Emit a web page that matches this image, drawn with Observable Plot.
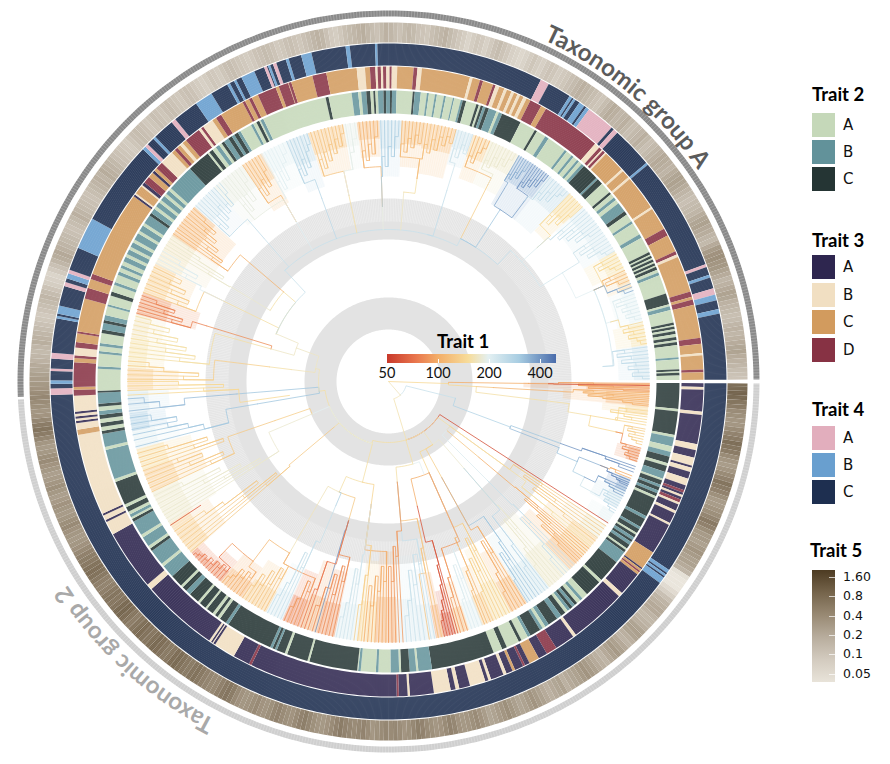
<!DOCTYPE html>
<html><head><meta charset="utf-8">
<script src="https://cdn.jsdelivr.net/npm/d3@7"></script>
<script src="https://cdn.jsdelivr.net/npm/@observablehq/plot@0.6"></script>
<style>
html,body{margin:0;background:#fff}
#wrap{position:relative;width:890px;height:764px;overflow:hidden;font-family:Lato,"Open Sans",sans-serif}
#wrap svg{display:block}
.t{position:absolute;font-weight:700;font-size:18.5px;color:#000;line-height:20px;white-space:nowrap}
.s{position:absolute;width:23px;height:24px}
.l{position:absolute;font-family:"DejaVu Sans",sans-serif;font-size:15px;line-height:18px;color:#111}
.n{position:absolute;font-family:"DejaVu Sans",sans-serif;font-size:12.5px;line-height:16px;color:#111}
.c{position:absolute;font-size:14.5px;line-height:16px;color:#111;transform:translateX(-50%)}
</style></head><body><div id="wrap"></div>
<script>
const colors2={A:"#c5d8b9",B:"#62929a",C:"#253534"};
const colors3={A:"#2e264f",B:"#f1dfc2",C:"#d29b5e",D:"#873244"};
const colors4={A:"#e2aebd",B:"#699fcf",C:"#1e2f50"};
const trait1Stops=[50,75,100,145,190,290,500];
const trait1Colors=["#c8392b","#e9764d","#f3ad68","#f7dc9a","#e3f0f2","#a8cde2","#4a6cab"];
const trait5Stops=[.05,.1,.2,.4,.8,1.6];
const trait5Colors=["#e8e3d9","#d3cbbf","#b8ad9d","#988973","#75644b","#4d3b22"];
const trait1Ticks=[50,100,200,400];
const trait5Ticks=["1.60","0.8","0.4","0.2","0.1","0.05"];

// category, end angle (degrees clockwise from 3 o'clock)
const trait2="C 5.4 A 5.9 C 10.6 A 11.1 B 12.9 A 14 B 15 C 16.3 A 16.9 C 18.1 B 19.5 A 19.9 C 20.8 B 21.3 C 22 B 22.6 C 23.2 A 23.7 C 27.6 B 28.2 C 30 B 30.5 C 31.4 A 31.8 C 32.4 B 33 C 33.5 B 34.1 C 35 A 35.4 C 35.9 B 38.4 C 43 A 43.6 C 47 A 48.2 B 48.8 A 49.6 C 50.2 B 50.8 C 51.4 B 52 A 52.6 C 53.6 B 54.6 C 56.6 B 57.4 A 58 B 58.6 C 60.8 B 61.4 A 62.8 C 63.4 A 66 C 67 A 68.8 C 81.4 B 84.1 A 84.5 B 85.8 C 87.5 A 87.9 B 89.6 A 92 B 92.5 A 95.5 B 96 A 96.2 C 105.8 A 106.2 C 110.4 A 110.9 C 112.6 B 113 C 113.5 B 114 C 123.4 B 124 C 125.4 A 126 C 126.6 A 127.2 C 128.6 A 129 C 130.4 A 130.9 C 133 B 134 C 135 A 135.5 C 138 B 140.6 A 141.2 B 144.4 C 145 A 145.6 B 147.6 A 148.2 B 151.2 C 151.8 A 152.2 B 152.8 A 153.4 C 154.4 A 155 C 159.8 A 160.4 B 166.4 A 167 B 169.6 C 170.2 A 171 C 171.8 A 172.6 C 173.4 B 174.2 A 175 C 175.6 B 177.8 C 178.2 A 182.5 B 183 A 185.5 B 186 A 187 B 187.6 A 189.6 C 190.3 B 191.6 C 192.2 B 193.2 A 195 B 195.4 A 197.2 C 198 A 199.4 B 200 A 201.5 B 202.2 A 203 B 203.6 A 204.4 B 205.4 A 206 B 207 A 207.6 B 208.6 A 209.2 B 210.6 A 211.2 B 212.4 A 213 B 214.8 C 215.4 B 216.4 A 217 B 218 A 218.6 B 219.6 A 220.2 B 221 A 221.6 B 227 C 231.6 A 232 C 232.8 A 233.6 B 234.4 A 235 C 235.6 B 236.6 C 237.4 B 238 C 238.8 B 239.4 A 241.8 B 242.3 A 243 C 243.6 A 243.9 B 244.5 A 257.5 C 258.1 A 262.7 B 264 A 264.6 B 265.6 C 266.4 A 267 C 267.4 A 267.9 B 269 C 269.5 B 270.3 C 270.7 B 271.6 A 274.8 C 275.2 B 276.4 A 277.6 B 278 A 279.2 B 279.6 A 281 B 281.4 A 282.8 B 283.1 A 284.4 B 284.8 C 285.5 A 287.6 C 288.1 A 288.5 C 289 B 289.5 C 290.2 B 291.8 A 292.3 B 293 C 297 A 300.2 C 300.7 A 302.6 B 303.4 A 307.3 B 307.8 A 309 B 309.5 A 310.4 B 310.9 A 311.6 B 312.2 C 315.6 B 316 C 317.2 A 319.4 C 319.9 A 320.8 B 321.4 A 322.2 B 324.2 C 325 A 326.6 B 327.1 A 329.6 B 330.4 A 333.6 C 334.1 A 334.4 C 334.9 A 335.2 C 335.7 A 336 C 336.5 A 336.8 C 337.4 A 338 B 338.6 A 342.4 C 344.6 A 345 B 345.8 A 348.3 C 348.8 A 349.1 C 349.6 A 350 C 350.6 A 351.2 C 351.8 A 352.2 C 352.8 A 355.2 B 355.6 A 357.6 C 358 A 358.3 C 358.8 A 359.7";
const trait3="A 1 B 1.5 A 5.5 B 6.1 A 11.5 B 12.6 A 14 B 15.5 A 15.9 B 16.7 A 18 B 19.3 A 20.2 D 20.7 A 21.1 B 21.5 A 22 D 22.6 B 23 A 24.2 B 24.7 A 26.7 B 27.1 A 32.9 C 36.3 A 36.6 C 37 D 37.3 C 37.8 A 42.2 B 43 A 53.5 B 54.1 A 57.8 D 59.8 A 61.5 C 63.4 A 64.3 D 64.7 A 66.3 C 66.8 A 68 B 68.6 A 71 B 71.5 A 72.1 B 75 A 77 B 77.7 A 78.6 B 81.7 A 86.1 B 86.5 A 88.1 D 88.5 A 115.8 D 116.3 A 119.4 B 123.4 A 123.8 B 124 A 124.3 B 124.7 A 138.8 B 139.9 A 151 B 153.5 A 153.9 B 154.8 A 155.2 B 170.2 C 171.2 B 172.4 A 172.8 B 173.2 A 173.6 B 174.1 A 174.5 B 177.4 D 178.5 C 179 D 183.5 C 184.3 D 184.8 B 186.2 D 187.2 C 188.8 D 189.2 C 195.3 D 197.3 C 199 D 200 C 216 A 216.4 B 216.7 C 218.3 B 218.6 A 219.2 D 220.5 C 221.5 A 222 C 222.6 D 224 B 226.6 C 227.3 D 227.9 C 228.6 B 229.2 C 230 D 233 B 233.5 D 234 B 236 C 236.8 D 237.9 C 242.4 D 242.9 C 243.7 D 244.3 C 245.5 D 249 C 249.6 D 251.4 C 251.5 D 252 C 256 D 258.6 C 264.2 B 265.7 C 266.6 D 267.6 B 268 D 268.6 B 269 D 269.6 B 270.2 D 270.6 B 271.6 C 274.6 D 275.3 B 276.1 C 285 B 285.5 C 286.9 D 287.5 C 289.4 D 289.9 B 290.6 C 291.6 B 292.1 C 293 B 293.5 C 294.2 B 294.7 C 295.4 B 296 C 296.8 D 299 C 300 D 311 B 312 D 312.6 B 312.9 D 313.4 B 313.7 C 317.7 B 318.1 C 319.6 B 320 C 326.4 B 326.8 C 331 D 332.4 C 335.6 D 336.2 B 336.7 C 343.4 D 344.4 C 344.9 D 345.9 C 352 D 353.1 C 354.8 B 355.2 C 357.8 D 358.3 C 359.7";
const trait4="C 33.9 B 34.5 C 34.8 B 35.2 C 35.5 B 36.6 C 177.7 A 178.8 C 179.6 B 180.2 C 181.8 A 182.2 C 183.9 A 184.9 C 190.8 B 191.2 C 191.6 B 193 C 196.4 A 197.1 C 197.8 B 198.7 A 199.3 C 203.3 B 208.8 C 223.4 B 224 A 224.6 C 225.9 B 226.4 C 230.1 A 230.9 C 235.3 B 238.4 C 241.5 B 242 C 242.8 B 243.2 C 244.2 B 246.6 C 248.4 A 248.9 C 249.1 B 249.5 C 250 A 250.6 C 252.3 B 252.8 C 255 B 256.8 C 262.7 B 263.4 C 267.7 B 268.1 C 296.8 A 298.3 C 302.4 B 302.9 C 303.2 B 303.6 C 304.4 B 305.4 C 305.8 B 306.4 A 311.3 C 311.8 A 312.6 C 319.7 B 320.1 C 339.7 A 340.2 C 341.6 B 342.1 C 344 A 345.1 B 346.1 C 347.6 B 348.4 C 359.7";
// one value per 0.75 degrees
const trait5=[.9,1,1.1,1,.8,.7,.5,.45,.4,.4,.5,.6,.7,.9,.8,.7,.5,.4,.35,.4,.5,.6,.8,.7,.6,.45,.35,.35,.4,.45,.55,.7,.6,.45,.35,.35,.3,.35,.4,.35,
.3,.3,.25,.2,.06,.05,.05,.05,.07,.1,.15,.2,.22,.25,.25,.2,.18,.2,.22,.28,.3,.28,.22,.2,.25,.3,.35,.3,.25,.2,.22,.25,.3,.35,.4,.35,.3,.28,.25,.22,
.3,.28,.25,.22,.25,.3,.35,.4,.35,.3,.28,.32,.38,.45,.4,.35,.3,.28,.35,.42,.5,.45,.4,.38,.42,.55,.6,.5,.42,.4,.45,.5,.6,.65,.55,.45,.42,.5,.55,.5,
.55,.5,.45,.4,.5,.6,.55,.5,.55,.6,.7,.6,.5,.42,.38,.4,.45,.55,.65,.6,.5,.42,.45,.5,.6,.55,.45,.4,.42,.5,.45,.4,.38,.42,.5,.65,.75,.7,.6,.5,
.5,.55,.6,.7,.8,.75,.65,.7,.8,.9,.85,.7,.65,.75,.85,.9,.8,.7,.75,.85,.8,.7,.6,.7,.85,.95,.9,.75,.7,.75,.7,.6,.55,.6,.7,.8,.85,.8,.7,.65,
.6,.5,.42,.38,.35,.38,.42,.5,.45,.38,.35,.38,.42,.36,.33,.38,.45,.4,.35,.33,.38,.42,.5,.45,.38,.35,.4,.55,.7,.8,.7,.55,.42,.4,.45,.5,.55,.5,.42,.38,
.35,.32,.28,.26,.22,.2,.18,.2,.24,.22,.2,.17,.15,.13,.12,.14,.16,.18,.2,.17,.14,.11,.1,.09,.12,.15,.2,.24,.26,.22,.2,.18,.17,.15,.14,.16,.18,.22,.2,.17,
.16,.15,.14,.16,.18,.2,.22,.2,.24,.22,.2,.18,.15,.14,.13,.12,.11,.13,.15,.16,.15,.14,.12,.13,.15,.14,.13,.15,.16,.14,.13,.12,.14,.15,.14,.12,.11,.1,.11,.13,
.12,.11,.13,.15,.16,.14,.13,.12,.11,.12,.14,.15,.17,.16,.14,.12,.13,.15,.16,.14,.13,.15,.17,.2,.22,.2,.15,.12,.11,.13,.16,.18,.2,.22,.24,.2,.17,.15,.18,.22,
.2,.17,.15,.18,.2,.18,.15,.14,.13,.16,.18,.2,.22,.18,.15,.13,.11,.09,.11,.13,.12,.1,.12,.15,.17,.14,.12,.1,.09,.08,.09,.11,.13,.11,.1,.12,.14,.13,.11,.12,
.13,.15,.17,.2,.22,.2,.18,.16,.14,.13,.16,.2,.24,.22,.19,.2,.22,.18,.15,.17,.19,.22,.18,.15,.17,.2,.22,.25,.24,.22,.2,.24,.28,.3,.28,.24,.2,.17,.15,.17,
.18,.2,.24,.28,.3,.26,.24,.2,.18,.25,.35,.42,.45,.4,.38,.3,.25,.2,.22,.26,.3,.28,.22,.2,.18,.16,.17,.2,.22,.2,.22,.25,.28,.3,.25,.22,.2,.17,.15,.14];

// dense clades: angle from, angle to, inner radius, Trait 1
const denseClades=[[.4,2.4,135,90],[2.4,5.6,175,100],[5.6,7.5,215,135],[15,18,237,85],[22,25,238,380],[25,29,230,230],[30,33,235,190],[33.5,37,215,170],[37,42,200,125],[42,46,190,105],[46,52,180,165],[52,58,185,220],[58,62,195,105],[62,66,185,150],[66,69,200,125],[69,72,205,195],[72,75,210,110],[75,77.5,215,58],[77.5,79.5,195,90],[79.5,83,190,210],[83,88,175,205],[88,93,170,95],[93,97,180,135],[97,102,190,200],[102,106,195,85],[106,110,190,95],[110,114,205,75],[114,118,205,205],[118,124,215,125],[124,130,225,100],[130,134,235,80],[134,139,245,75],[139,147,215,125],[147,155,205,165],[155,160,200,120],[160,165,205,140],[165,169,215,195],[169,173,225,300],[173,178,220,230],[178,183,210,120],[183,190,225,150],[190,195,230,160],[195,200,200,85],[200,207,215,125],[207,214,205,160],[214,222,205,105],[222,228,215,210],[228,236,210,180],[236,241,205,115],[241,247,215,190],[247,252,205,240],[252,260,215,120],[260,263,215,185],[263,268,225,105],[268,273,205,240],[273,278,215,110],[278,285,210,115],[285,289,225,230],[289,293,215,125],[293,300,215,165],[300,308,205,340],[308,314,205,230],[314,318,210,140],[318,330,225,205],[330,335,225,150],[335,339,235,130],[339,347,235,190],[347,352,230,150],[352,359.7,230,230]];

// parent angle, parent radius, angle, radius, Trait 1
const branches=[[0,0,2,60,140],[0,0,49,18,160],[49,18,14,69,230],[14,69,20.5,130,270],[20.5,130,19.8,183,300],[20.5,130,21.2,183,320],[49,18,73,61,155],
[2,60,.8,140,100],[2,60,3.3,88,140],[3.3,88,3.3,105,120],[3.3,88,7,182,150],[7,182,9.6,205,150],[9.6,205,12.5,233,140],
[21.2,183,23,205,300],[23,205,21.6,228,340],[23,205,26,218,280],[26,218,28.5,235,220],
[73,61,32.8,261,58],[73,61,36,76,150],[36,76,40,118,120],[36,76,45,140,200],[73,61,55,77,160],[55,77,49,115,170],[55,77,61,110,130],[55,77,66,100,140],[66,100,77,128,100],[73,61,73.5,86,150],[73.5,86,85,101,150],[73.5,86,69,99,190],
[73,61,105,64,150],[105,64,172,70,150],[105,64,104.5,104,150],[104.5,104,98,124,135],[104.5,104,114,121,150],[114,121,106,145,125],[114,121,120,198,160],[114,121,113,135,280],[120,198,127,225,110],[127,225,134,240,90],[105,64,140,71,150],[105,64,157,83,190],[157,83,161,120,130],
[172,70,170.3,133,300],[172,70,175.3,152,300],[172,70,190,74,160],[190,74,187,98,160],[187,98,187,120,150],[190,74,200,98,165],[200,98,195.5,122,165],[200,98,203,122,165],[195.5,122,197,190,85],[203,122,206,183,150],[203,122,220.5,138,150],[220.5,138,211,138,150],[203,122,227,152,230],[227,152,285,152,230],[227,152,229,190,230],[240,152,240,185,200],[250,152,250,195,250],[258,152,258,190,150],[268,152,268,175,180],
[274.6,152,274.6,190,165],[274.6,190,278,205,150],[285,152,296.8,160,230],[285,152,287,200,240],[296.8,160,296.8,220,130],[296.8,160,313,179,240],[296.8,160,303,205,300],[303,205,301,225,360],[303,205,307,225,380],[313,179,318,200,200],[313,179,328,205,210],[328,205,336,225,190],[336,225,345,230,190],[336,225,356,215,210]];

// parent angle, parent radius, Trait 1, then tip angle + split radius pairs
const tipGroups=[[.8,140,95,[.4,170,.7,205,1.2,190,1.5,225,1.9,200,2.2,235]],[.8,160,58,[.9,165]],[3.3,105,105,[2.5,185,2.9,205,3.3,195,3.7,225,4.1,200,4.5,215,5,235,5.4,245]],[9.6,205,140,[6.5,232,7.2,240,7.8,224,8.4,238,9,246,9.6,230]],[12.5,233,130,[10.5,240,11,248,11.6,244,12.2,252,12.8,246,13.4,250,14,255]],[12.5,233,85,[14.8,240,15.4,246,16,243,16.6,250,17.2,247,17.8,253]],[19.8,183,400,[19,205,19.6,230,20.3,245]],[21.6,228,100,[21.2,238,21.8,244]],[21.6,228,420,[22.3,236,22.8,242,23.2,248,23.6,252]],[26,218,380,[24.2,230,24.8,238,25.4,244,26,250]],[28.5,235,240,[26.6,240,27.2,246,27.8,243,28.4,250,29,246,29.6,252,30.2,255]],
[36,76,125,[33.6,150,34.4,185,35.2,165,36,205,36.8,180,37.6,220]],[36,76,150,[38.4,170,39.2,210]],[40,118,100,[39.8,165,40.4,195,41,180,41.6,215,42.2,200,42.8,225,43.4,210,44,235]],[45,140,230,[44.6,175,45.4,200,46.2,190,47,225,47.8,240]],[49,115,170,[48.5,165,49.4,195,50.2,180,51,215,51.8,235]],[49,115,250,[52.4,170,53.2,205,54,230]],[61,110,300,[54.8,165,55.6,195,56.4,215,57.2,205,57.8,235]],[61,110,100,[58.4,170,59.2,200,60,185,60.8,220,61.6,240]],[66,100,130,[62.4,160,63.2,190,64,175,64.8,210,65.6,195,66.4,230]],[66,100,110,[67,170,67.8,205,68.4,225]],[66,100,200,[69,180,69.8,210,70.6,195,71.4,230]],[66,100,90,[72.4,175,73.2,205,74,225]],[77,128,60,[74.6,165,75.2,190,75.8,210,76.4,225,77,235,77.6,245]],[85,101,120,[78.2,140,79,170,81,195]],[85,101,230,[79.8,160,80.6,185,82,175,83,205,84,190,85,220,86,235]],[85,101,90,[86.8,150,87.6,175,88.4,165,89.2,200,90,185]],
[98,124,100,[90.6,170,91.4,200,92.2,185,93,210,93.8,195,94.6,225,95.4,205]],[98,124,130,[96,165,96.8,195,97.6,225]],[98,124,220,[98.4,175,99.2,205,100,190,100.8,225,101.6,240]],[106,145,85,[102.4,180,103.2,205,104,190,104.8,220,105.6,200,107,215,108,235]],[106,145,400,[106.3,155]],[106,145,75,[108.8,190,109.6,220]],[120,198,90,[110.4,210,111.2,225,112,215,112.8,235,113.6,245]],[113,135,230,[114.4,175,115.2,205,116,190,116.8,225,117.6,240]],[120,198,120,[118.4,210,119.2,225,120,215,120.8,235,121.6,222,122.4,240,123.2,230,124,245]],[127,225,100,[124.8,232,125.6,240,126.4,236,127.2,245,128,238,128.8,248,129.6,252]],[134,240,75,[130.4,244,131.2,250,132,246,132.8,252,133.6,248,134.4,254,135.2,250,136,255,136.8,252,137.6,256,138.4,258]],[140,71,125,[139.3,130,140.2,160,141,145,142,185,143,165,144,205,145,225]],[146.6,225,60,[146.6,228]],[157,83,170,[147.5,130,148.4,165,149.2,150,150,190,151,170,152,210,153,190,154,230]],[161,120,125,[155,170,156,195,157,180,158,215,159,200,160,225,161,175,162,205,163,190,164,230]],[170.3,133,300,[165.5,165,167,190,168.2,205,169.4,225,170.6,215,172,240]],[175.3,152,320,[173.5,205,175,230,176.2,245]],[172,100,140,[177,150,178,185,179,165,180,210]],
[187,120,130,[180.5,175,181.5,205,182.5,190,183.5,225,184.5,240]],[195.5,122,150,[185.5,180,186.5,210,187.5,195,188.5,225,189.5,205,190.5,235,191.5,215,192.5,240,193.5,225,194.5,245]],[197,190,80,[195.2,205,196,225,196.8,215,197.6,235,198.4,225,199.2,245]],[206,183,125,[200,205,201,225,202,215,203,235,204,222,205,240,206,230]],[206,183,200,[207,210,208,228,209,218,210,240]],[220.5,138,105,[214.5,195,215.3,215,216,205,216.8,225,217.6,215,218.4,232,219.2,222,220,238,220.8,228,221.6,244]],[211,138,170,[210.8,185,211.6,210,212.4,195,213.2,225,214,240]],[229,190,240,[222.4,215,223.2,230,224,222,224.8,238,225.6,228,226.4,244,227.2,232,228,240,228.8,235,229.6,248]],[240,185,180,[230.4,210,231.2,228,232,218,233,235,234,225,235,245]],[240,185,110,[236,215,236.8,232,237.6,222,238.4,238,239.2,228,240,244]],[240,185,190,[240.8,210,241.6,228,242.4,218,243.2,236,244,225,245,242,246,250]],[250,195,260,[247,215,247.8,230,248.6,222,249.4,238,250.2,228,251,244,251.8,250]],[258,190,120,[252.6,215,253.4,232,254.2,222,255,238,255.8,228,256.6,244,257.4,234,258.2,248,259,240,259.8,252]],[258,190,185,[260.5,215,261.5,232,262.5,245]],[268,175,105,[263.5,215,264.3,232,265.1,222,265.9,238,266.7,228,267.5,245]],[268,175,280,[268.3,205,269.1,225,269.9,215,270.7,235,271.5,225,272.3,245]],
[278,205,110,[273,225,273.8,238,274.6,230,275.4,244,276.2,235,277,248,277.8,240]],[278,205,115,[278.6,225,279.4,240,280.2,232,281,246,281.8,236,282.6,250,283.4,242,284.2,252,285,246]],[287,200,220,[285.6,228,286.4,242,287.2,234,288,248,288.8,240]],[296.8,220,110,[289.6,228,290.4,240,291.2,234,292,246,292.8,252]],[296.8,220,170,[293.6,232,294.4,242,295.2,236,296,248,296.8,240,297.6,250,298.4,244,299.2,253]],[301,225,350,[300,232,300.6,240,301.2,236,301.8,245,302.4,240,303,250]],[307,225,400,[303.6,232,304.2,240,304.8,236,305.4,246,306,240,306.6,250,307.2,244,307.8,253]],[307,225,240,[308.4,232,309.2,242,310,236,310.8,248,311.6,240,312.4,250,313.2,254]],[318,200,140,[314,218,314.8,232,315.6,224,316.4,238,317.2,230,318,245]],[318,200,230,[318.8,215,319.6,230,320.4,222,321.2,238,322,228,322.8,244,323.6,234,324.4,248]],[328,205,220,[325.2,225,326,238,326.8,230,327.6,244,328.4,235,329.2,248,330,252]],[336,225,140,[330.8,235,331.6,244,332.4,238,333.2,248,334,253]],[336,225,110,[334.8,236,335.6,244,336.4,238,337.2,250]],[336,225,350,[338,236,338.8,246,339.6,252]],[345,230,200,[340.4,238,341.2,246,342,240,342.8,250,343.6,244,344.4,252,345.2,246,346,254]],[345,230,140,[346.8,238,347.6,246,348.4,240,349.2,250,350,244,350.8,252,351.6,255]],[356,215,240,[352.4,226,353.2,238,354,230,354.8,244,355.6,234,356.4,248,357.2,240,358,250,358.8,244,359.4,254]]];

const guideRings=[[52,84],[142,183]];
const groupLabels=[{text:"Taxonomic group A",from:294.5,to:330,r:375,fill:"#5b5b5b"},{text:"Taxonomic group 2",from:117,to:152,r:380,fill:"#a9a9a9"}];

const TIP_R=261;
const col1=d3.scaleLog().domain(trait1Stops).range(trait1Colors).clamp(true);
const col5=d3.scaleLog().domain(trait5Stops).range(trait5Colors).clamp(true);
const rad=d=>d*Math.PI/180, px=(t,r)=>r*Math.cos(rad(t)), py=(t,r)=>r*Math.sin(rad(t));
let uid=0;
const sectors=[];
function sector(t0,t1,r0,r1,fill){
  const id=uid++, n=Math.max(1,Math.ceil(Math.abs(t1-t0)));
  for(let i=0;i<=n;i++){const t=t0+(t1-t0)*i/n;sectors.push({id,fill,x:px(t,r1),y:py(t,r1)})}
  for(let i=n;i>=0;i--){const t=t0+(t1-t0)*i/n;sectors.push({id,fill,x:px(t,r0),y:py(t,r0)})}
}
function runs(str,colors,r0,r1){
  const p=str.split(" ");let a=.3;
  for(let i=0;i<p.length;i+=2){const e=+p[i+1];sector(a,e,r0,r1,colors[p[i]]);a=e}
}
runs(trait2,colors2,268,291);runs(trait3,colors3,293,315);runs(trait4,colors4,316,338);
trait5.forEach((v,i)=>{const a=Math.max(.3,i*.75),b=Math.min(359.7,(i+1)*.75);if(b>a)sector(a,b,339,359,col5(v))});
sector(.3,177.2,365,371,"#cfcfcf");sector(177.6,359.7,365,371,"#8a8a8a");

const keep=sectors.splice(0);
guideRings.forEach(([a,b])=>sector(0,360,a,b,"#e3e3e3"));const guides=sectors.splice(0);
denseClades.forEach(([a,b,r,v])=>sector(a,b,r,TIP_R,col1(v)));const dense=sectors.splice(0);
denseClades.forEach(([a,b,r,v])=>sector(a,b,(r+TIP_R)/2,TIP_R,col1(v)));const denser=sectors.splice(0);
sectors.push(...keep);

const treeRows=[];
function branch(tp,rp,t,r,v,rs){
  const id=uid++,n=Math.ceil(Math.abs(t-tp)/2),stroke=col1(v);
  const ra=rs==null?rp:rs;
  if(rs!=null)treeRows.push({id,stroke,x:px(tp,rp),y:py(tp,rp)});
  for(let i=0;i<=n;i++){const a=tp+(t-tp)*(n?i/n:0);treeRows.push({id,stroke,x:px(a,ra),y:py(a,ra)})}
  treeRows.push({id,stroke,x:px(t,r),y:py(t,r)});
}
branches.forEach(b=>branch(...b));
tipGroups.forEach(([tp,rp,v,tips])=>{
  let pt=tp,pr=rp;
  for(let i=0;i<tips.length;i+=2){branch(pt,pr,tips[i],TIP_R,v,tips[i+1]);pt=tips[i];pr=tips[i+1]}
});

const tickRow=(step,r0,r1)=>d3.range(0,360,step).map(t=>({x1:px(t,r0),y1:py(t,r0),x2:px(t,r1),y2:py(t,r1)}));

const labelMark=(index,{x,y})=>{
  const g=d3.create("svg:g");
  groupLabels.forEach((l,i)=>{
    const p=(t)=>`${x(px(t,l.r))} ${y(py(t,l.r))}`;
    g.append("path").attr("id","lab"+i).attr("fill","none").attr("d",`M${p(l.from)}A${l.r} ${l.r} 0 0 1 ${p(l.to)}`);
    g.append("text").attr("text-anchor","start").attr("font-family","Lato,'Open Sans',sans-serif").attr("font-weight",700).attr("font-size",24).attr("fill",l.fill)
     .append("textPath").attr("href","#lab"+i).attr("startOffset",0).text(l.text);
  });
  return g.node();
};

const chart=Plot.plot({width:890,height:764,margin:0,
  x:{axis:null,domain:[-388,502]},y:{axis:null,domain:[383,-381]},color:{type:"identity"},
  marks:[
    Plot.line(guides,{x:"x",y:"y",z:"id",fill:"fill",stroke:"none"}),
    Plot.line(dense,{x:"x",y:"y",z:"id",fill:"fill",stroke:"none",fillOpacity:.2}),
    Plot.line(denser,{x:"x",y:"y",z:"id",fill:"fill",stroke:"none",fillOpacity:.34}),
    Plot.link(tickRow(.55,160,TIP_R),{x1:"x1",y1:"y1",x2:"x2",y2:"y2",stroke:"#fff",strokeWidth:.6,strokeOpacity:.55}),
    Plot.line(treeRows,{x:"x",y:"y",z:"id",stroke:"stroke",strokeWidth:.85,strokeOpacity:.92,strokeLinejoin:"miter"}),
    Plot.line(sectors,{x:"x",y:"y",z:"id",fill:"fill",stroke:"none"}),
    Plot.link(tickRow(.2,266,360),{x1:"x1",y1:"y1",x2:"x2",y2:"y2",stroke:"#fff",strokeWidth:.3,strokeOpacity:.5}),
    Plot.link(tickRow(.45,364,372),{x1:"x1",y1:"y1",x2:"x2",y2:"y2",stroke:"#fff",strokeWidth:.35,strokeOpacity:.6}),
    labelMark
  ]});
const wrap=document.getElementById("wrap");wrap.append(chart);

function el(cls,txt,css){const d=document.createElement("div");d.className=cls;if(txt!=null)d.textContent=txt;Object.assign(d.style,css);wrap.append(d);return d}
function catLegend(title,colors,ty,y0,gap){
  el("t",title,{left:"812px",top:ty+"px"});
  Object.entries(colors).forEach(([k,c],i)=>{
    el("s",null,{left:"812px",top:y0+i*gap+"px",background:c});
    el("l",k,{left:"843px",top:y0+i*gap+3+"px"});
  });
}
catLegend("Trait 2",colors2,84,113,27);
catLegend("Trait 3",colors3,230,255,27.5);
catLegend("Trait 4",colors4,399,426,27);
el("t","Trait 5",{left:"810px",top:"540px"});
el("s",null,{left:"812px",top:"570px",height:"112px",background:`linear-gradient(to top,${trait5Colors.join(",")})`});
trait5Ticks.forEach((t,i)=>{
  const y=577+i*19.3;
  el("s",null,{left:"829px",top:y+"px",width:"6px",height:"1px",background:"rgba(255,255,255,.7)"});
  el("n",t,{left:"843px",top:y-8+"px"});
});
el("t","Trait 1",{left:"437px",top:"331px"});
el("s",null,{left:"387px",top:"354px",width:"169px",height:"9px",background:`linear-gradient(to right,#c8392b 0%,#e9764d 17%,#f3ad68 30%,#f7dc9a 48%,#e3f0f2 60%,#a8cde2 78%,#4a6cab 100%)`});
trait1Ticks.forEach((t,i)=>{
  const x=387+i*51;
  if(i)el("s",null,{left:x+"px",top:"359px",width:"1px",height:"4px",background:"#fff"});
  el("c",String(t),{left:x+"px",top:"365px"});
});
</script></body></html>
